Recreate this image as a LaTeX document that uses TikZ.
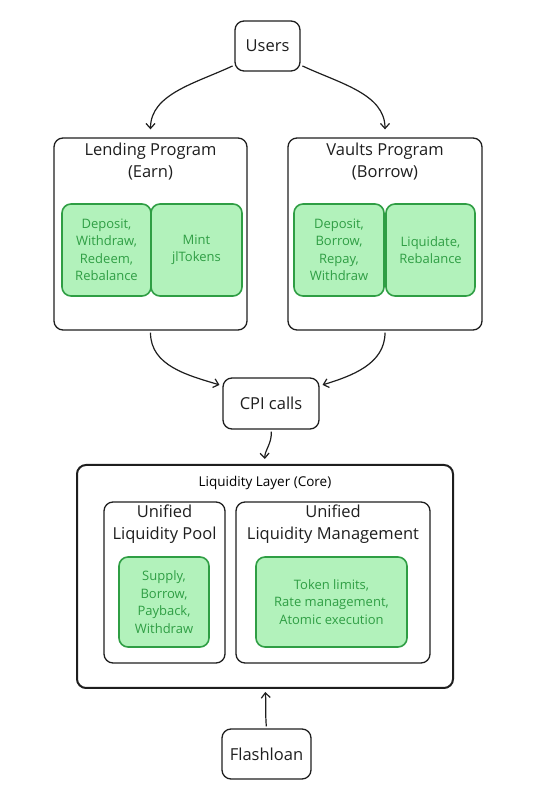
\documentclass[tikz,border=0pt]{standalone}
\usepackage{fontspec}
\setmainfont{Open Sans}
\usetikzlibrary{arrows.meta}
\definecolor{inkblack}{HTML}{1E1E1E}
\definecolor{leafgreen}{HTML}{2F9E44}
\definecolor{mintfill}{HTML}{B2F2BB}

\begin{document}
\begin{tikzpicture}[x=1pt,y=1pt,text centered,
  box/.style={draw=inkblack,line width=1.3pt,rounded corners=9pt,inner sep=0pt},
  op/.style={draw=leafgreen,fill=mintfill,line width=1.6pt,rounded corners=9pt,inner sep=0pt,
    text=leafgreen,align=center,font=\fontsize{13}{17.5}\selectfont},
  head/.style={align=center,text=inkblack,font=\fontsize{16.5}{22}\selectfont},
  flow/.style={draw=inkblack,line width=1.2pt,shorten <=2pt,-{Straight Barb[length=5pt,width=9pt]}}]
  \useasboundingbox (0,0) rectangle (552,800);

  \node (USERS) at (267.5,754) [box,head,minimum width=65,minimum height=50] {Users};

  \node (LEND) at (150.5,566) [box,minimum width=193,minimum height=192] {};
  \node (LENDT) at (150.5,638) [head] {Lending Program\\(Earn)};
  \node (LENDA) at (106.5,550) [op,minimum width=89,minimum height=92] {Deposit,\\Withdraw,\\Redeem,\\Rebalance};
  \node (LENDB) at (196.5,550) [op,minimum width=91,minimum height=92] {Mint\\jlTokens};

  \node (VAULT) at (385,566) [box,minimum width=194,minimum height=192] {};
  \node (VAULTT) at (385,638) [head] {Vaults Program\\(Borrow)};
  \node (VAULTA) at (339,550) [op,minimum width=90,minimum height=92] {Deposit,\\Borrow,\\Repay,\\Withdraw};
  \node (VAULTB) at (430.5,550) [op,minimum width=89,minimum height=92] {Liquidate,\\Rebalance};

  \node (CPI) at (271,396.5) [box,head,minimum width=96,minimum height=51] {CPI calls};

  \node (LAYER) at (265,223.5) [box,line width=2pt,minimum width=376,minimum height=223] {};
  \node (LAYERT) at (265,317) [font=\fontsize{13.5}{15}\selectfont] {Liquidity Layer (Core)};

  \node (POOL) at (164.5,217.5) [box,minimum width=121,minimum height=161] {};
  \node (POOLT) at (164.5,275.5) [head] {Unified\\Liquidity Pool};
  \node (POOLA) at (164,198) [op,minimum width=90,minimum height=90] {Supply,\\Borrow,\\Payback,\\Withdraw};

  \node (MGMT) at (333,217.5) [box,minimum width=194,minimum height=161] {};
  \node (MGMTT) at (333,275.5) [head] {Unified\\Liquidity Management};
  \node (MGMTA) at (331.5,198) [op,minimum width=151,minimum height=90] {Token limits,\\Rate management,\\Atomic execution};

  \node (FLASH) at (266.5,46) [box,head,minimum width=89,minimum height=50] {Flashloan};

  \draw[flow,shorten >=8pt] (USERS.210) to[out=205,in=90] (LEND.north);
  \draw[flow,shorten >=8pt] (USERS.-30) to[out=-25,in=90] (VAULT.north);
  \draw[flow,shorten >=3pt] (LEND.south) to[out=-90,in=163] (CPI.160);
  \draw[flow,shorten >=3pt] (VAULT.south) to[out=-90,in=17] (CPI.20);
  \draw[flow,shorten >=5pt] (CPI.south) to[out=-85,in=92] (LAYER.north);
  \draw[flow,shorten >=3pt] (FLASH.north) to[out=95,in=-85] (LAYER.south);

\end{tikzpicture}
\end{document}
